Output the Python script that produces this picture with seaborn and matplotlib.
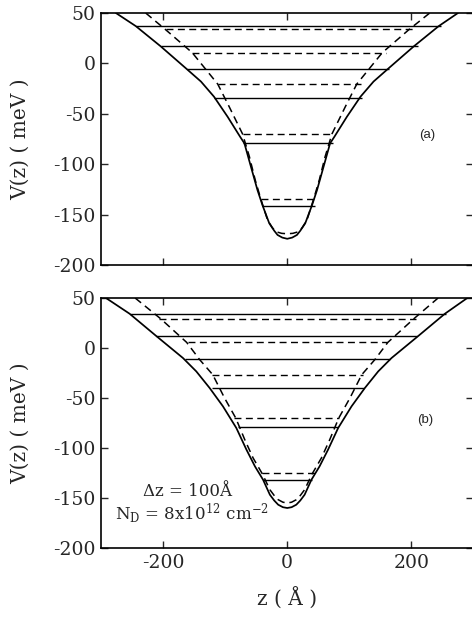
import matplotlib
matplotlib.use("Agg")
import matplotlib.pyplot as plt
import seaborn as sns
import numpy as np

# ---------------- data ----------------
# panel (a): solid potential and dashed potential
za_solid = [-276, -244, -204, -163, -139, -118, -96, -76, -69, -58.5, -48, -40, -29, -21, -15.6, -8, 0,
            8, 15.6, 21, 29, 40, 48, 58.5, 69, 76, 96, 118, 139, 163, 204, 244, 275]
Va_solid = [50, 37, 17, -5, -18, -33, -53, -72.7, -79.3, -102.5, -125.6, -140.5, -158.6, -166, -170.2, -172.8, -174,
            -172.8, -170.2, -166, -158.6, -140.5, -125.6, -102.5, -79.3, -72.7, -53, -33, -18, -5, 17, 37, 50]
za_dash = [-228, -196, -153, -112, -93.5, -72, -61, -51.6, -42.4, -31.8, -24, -18, -9, 0,
           9, 18, 24, 31.8, 42.4, 51.6, 61, 72, 93.5, 112, 153, 196, 229.5]
Va_dash = [50, 33.5, 10.6, -20.5, -43, -70, -92.5, -115.7, -134.8, -155.3, -163, -167, -168.6, -169,
           -168.6, -167, -163, -155.3, -134.8, -115.7, -92.5, -70, -43, -20.5, 10.6, 33.5, 50]
Ea_solid = [37, 17, -5.5, -34, -79, -141]
Ea_solid_l = [-244, -204, -161, -118, -71, -40]
Ea_solid_r = [248, 210, 164, 121, 73, 44]
Ea_dash = [34, 10, -20.5, -70, -134.5]
Ea_dash_l = [-196, -153, -112, -72, -42]
Ea_dash_r = [207, 159, 119, 73, 44]

# panel (b)
zb_solid = [-292, -254, -211, -168, -146.5, -125, -103.5, -82, -65.7, -52, -39, -28, -21, -14.6, -7, 0,
            7, 14.6, 21, 28, 39, 52, 65.7, 82, 103.5, 125, 146.5, 168, 211, 254, 290]
Vb_solid = [50, 34.3, 12, -10, -23.4, -40, -58.4, -80, -101.7, -118.4, -131.7, -146.7, -152.5, -156.7, -159.2, -160,
            -159.2, -156.7, -152.5, -146.7, -131.7, -118.4, -101.7, -80, -58.4, -40, -23.4, -10, 12, 34.3, 50]
zb_dash = [-245, -204, -162, -141, -120, -101, -83, -68.4, -55, -40, -28, -21, -14.6, -7, 0,
           7, 14.6, 21, 28, 40, 55, 68.4, 83, 101, 120, 141, 162, 204, 243]
Vb_dash = [50, 29.3, 5.6, -11.7, -26.7, -50, -70, -91.7, -110, -126, -141.7, -147.5, -151.7, -154.2, -155,
           -154.2, -151.7, -147.5, -141.7, -126, -110, -91.7, -70, -50, -26.7, -11.7, 5.6, 29.3, 50]
Eb_solid = [34.3, 11.6, -11, -40, -79, -131.7]
Eb_solid_l = [-254, -211, -165.5, -122, -79, -39]
Eb_solid_r = [255, 209, 166, 123, 82, 40]
Eb_dash = [29.3, 5.6, -27, -70, -125]
Eb_dash_l = [-206, -160, -121, -85, -41]
Eb_dash_r = [207, 161, 122, 84, 45]

xticks = [-200, 0, 200]
yticks = [50, 0, -50, -100, -150, -200]

# ---------------- style ----------------
sns.set_style("ticks")
plt.rcParams['font.family'] = ['DejaVu Serif']
plt.rcParams['axes.unicode_minus'] = False
plt.rcParams['mathtext.fontset'] = 'dejavuserif'

fig = plt.figure(figsize=(4.72, 6.18), dpi=100)
W, H = 472.0, 618.0
ax_a = fig.add_axes([101 / W, 1 - 265 / H, (473.5 - 101) / W, (265 - 13) / H])
ax_b = fig.add_axes([101 / W, 1 - 548 / H, (473.5 - 101) / W, (548 - 298) / H])

dash = (0, (5, 3.2))
for ax, zs, Vs, zd, Vd, Es, Esl, Esr, Ed, Edl, Edr in [
        (ax_a, za_solid, Va_solid, za_dash, Va_dash, Ea_solid, Ea_solid_l, Ea_solid_r, Ea_dash, Ea_dash_l, Ea_dash_r),
        (ax_b, zb_solid, Vb_solid, zb_dash, Vb_dash, Eb_solid, Eb_solid_l, Eb_solid_r, Eb_dash, Eb_dash_l, Eb_dash_r)]:
    sns.lineplot(x=zs, y=Vs, sort=False, estimator=None, color='black', lw=1.25, ax=ax)
    sns.lineplot(x=zd, y=Vd, sort=False, estimator=None, color='black', lw=1.1, ax=ax,
                 linestyle=dash)
    ax.hlines(Es, Esl, Esr, colors='black', lw=1.0)
    ax.hlines(Ed, Edl, Edr, colors='black', lw=1.0, linestyles=[dash])
    ax.set_xlim(-300, 300)
    ax.set_ylim(-200, 50)
    ax.set_xticks(xticks)
    ax.set_yticks(yticks)
    ax.tick_params(direction='in', top=True, right=True, length=5, width=1.0,
                   labelsize=13.5, pad=4)
    for s in ax.spines.values():
        s.set_linewidth(1.2)
        s.set_color('black')
    ax.set_ylabel("V(z) ( meV )", fontsize=14.5)
    ax.yaxis.set_label_coords(-0.19, 0.5)

ax_a.set_xticklabels([])
ax_a.text(0.876, 0.516, "(a)", transform=ax_a.transAxes, ha='center', va='center',
          fontsize=9.5, family='Liberation Sans')
ax_b.text(0.871, 0.512, "(b)", transform=ax_b.transAxes, ha='center', va='center',
          fontsize=9.5, family='Liberation Sans')
ax_b.text(0.231, 0.225, "Δz = 100Å", transform=ax_b.transAxes, ha='center', va='center',
          fontsize=12)
ax_b.text(0.244, 0.141, r"N$_\mathregular{D}$ = 8x10$^\mathregular{12}$ cm$^\mathregular{-2}$",
          transform=ax_b.transAxes, ha='center', va='center', fontsize=12)
ax_b.set_xlabel("z ( Å )", fontsize=14.5)
ax_b.xaxis.set_label_coords(0.5, -0.155)

fig.savefig("out.png", dpi=100)
